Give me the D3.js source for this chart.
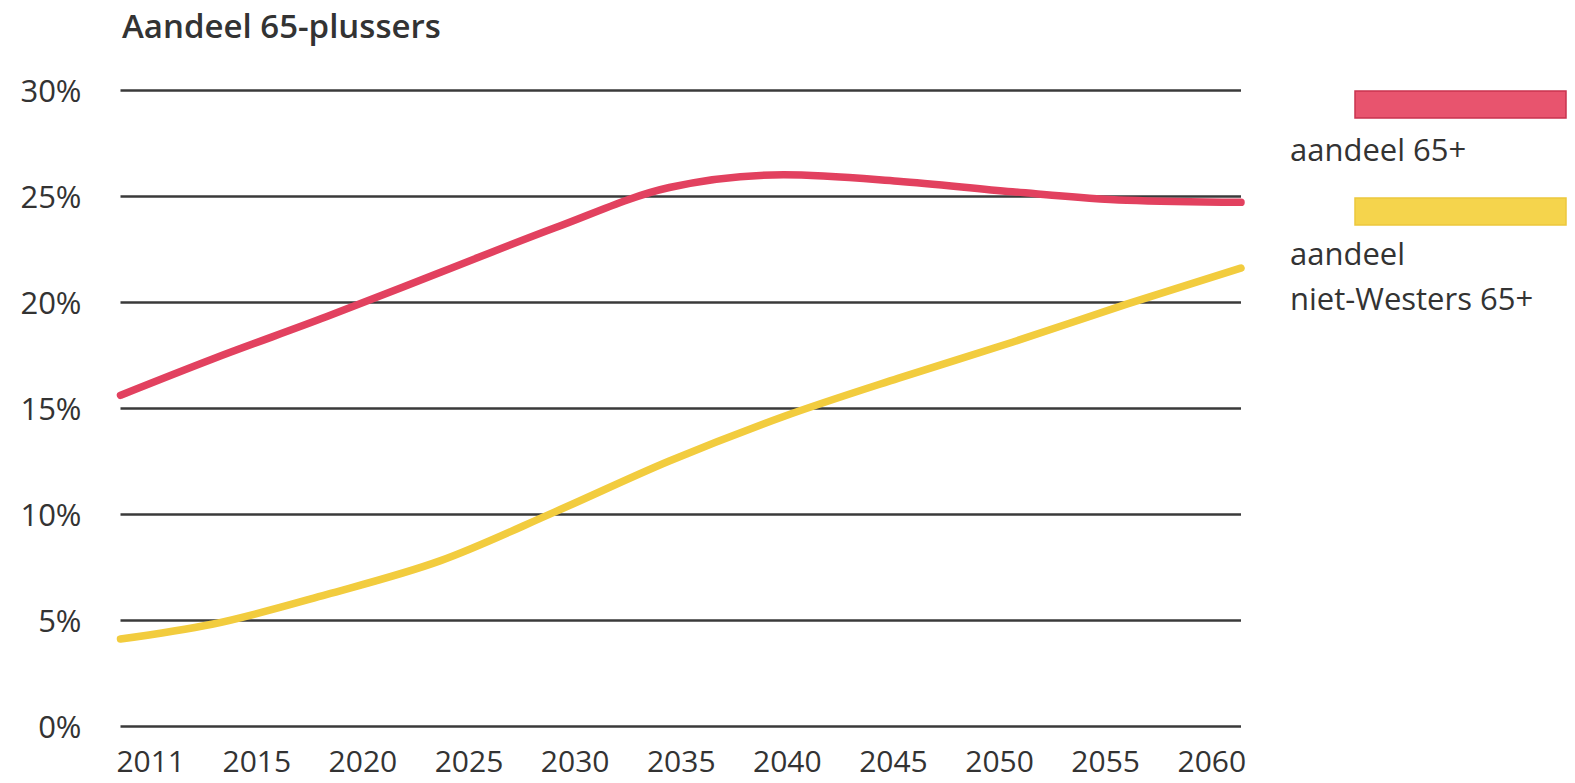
<!DOCTYPE html>
<html lang="nl">
<head>
<meta charset="utf-8">
<title>Aandeel 65-plussers</title>
<script src="https://cdn.jsdelivr.net/npm/d3@7"></script>
<style>
  html, body { margin: 0; padding: 0; background: #fff; }
  svg { display: block; }
  text { font-family: "Open Sans", "Noto Sans", sans-serif; fill: #333; }
</style>
</head>
<body>
<svg id="chart" width="1575" height="783"></svg>
<script>
// Share of the population aged 65+, total and non-Western, 2011-2060 (%)
const years = [2011, 2015, 2020, 2025, 2030, 2035, 2040, 2045, 2050, 2055, 2060];
const aandeel65 = [15.6, 17.3, 19.3, 21.4, 23.5, 25.4, 26.0, 25.7, 25.2, 24.8, 24.7];
const aandeelNietWesters65 = [4.1, 4.8, 6.2, 7.8, 10.1, 12.5, 14.6, 16.4, 18.1, 19.9, 21.6];

const yearLabels = ["2011", "2015", "2020", "2025", "2030", "2035", "2040", "2045", "2050", "2055", "2060"];
const yTicks = [0, 5, 10, 15, 20, 25, 30];

const seriesNames = ["aandeel 65+", "aandeel\nniet-Westers 65+"];
const seriesColors = ["#e2415f", "#f2cc3e"];
const legendFill = ["#e8546e", "#f5d44c"];
const legendStroke = ["#c9334f", "#ecc73c"];

const svg = d3.select("#chart");
const plot = { left: 120.5, right: 1241, top: 90, bottom: 726 };

const x = d3.scaleLinear().domain([2011, 2060]).range([plot.left, plot.right]);
const xLabel = d3.scalePoint().domain(yearLabels).range([plot.left, plot.right]).padding(0.28);
const y = d3.scaleLinear().domain([0, 30]).range([plot.bottom, plot.top]);

// title
svg.append("text")
  .attr("x", 122)
  .attr("y", 38)
  .attr("font-size", 33)
  .attr("font-weight", 600)
  .attr("fill", "#2b2b2b")
  .text("Aandeel 65-plussers");

// y axis with full-width gridlines
const yAxis = svg.append("g")
  .attr("transform", `translate(${plot.left},0)`)
  .call(d3.axisLeft(y)
    .tickValues(yTicks)
    .tickSize(-(plot.right - plot.left))
    .tickPadding(39)
    .tickFormat(d => d + "%"));
yAxis.select(".domain").remove();
yAxis.selectAll(".tick line")
  .attr("stroke", "#3a3a3a")
  .attr("stroke-width", 2.4);
yAxis.selectAll(".tick text")
  .attr("font-size", 31)
  .attr("font-family", "\"Open Sans\", \"Noto Sans\", sans-serif")
  .attr("fill", "#3a3a3a")
  .attr("dy", "0.36em");

// x axis labels
const xAxis = svg.append("g")
  .attr("transform", `translate(0,${plot.bottom})`)
  .call(d3.axisBottom(xLabel).tickSize(0).tickPadding(25));
xAxis.select(".domain").remove();
xAxis.selectAll(".tick text")
  .attr("font-size", 30)
  .attr("font-family", "\"Open Sans\", \"Noto Sans\", sans-serif")
  .attr("fill", "#3a3a3a");

// series lines
const series = [aandeel65, aandeelNietWesters65];
const line = d3.line()
  .x(d => x(d.year))
  .y(d => y(d.value))
  .curve(d3.curveMonotoneX);

series.forEach((values, i) => {
  const pts = years.map((yr, j) => ({ year: yr, value: values[j] }));
  svg.append("path")
    .datum(pts)
    .attr("d", line)
    .attr("fill", "none")
    .attr("stroke", seriesColors[i])
    .attr("stroke-width", 7.5)
    .attr("stroke-linecap", "round")
    .attr("stroke-linejoin", "round");
});

// legend: swatch above its label
const legendX = 1290;
const legendItems = [
  { swatchY: 91, textY: [161] },
  { swatchY: 198, textY: [265, 310] }
];
legendItems.forEach((item, i) => {
  svg.append("rect")
    .attr("x", 1355)
    .attr("y", item.swatchY)
    .attr("width", 211)
    .attr("height", 27)
    .attr("fill", legendFill[i])
    .attr("stroke", legendStroke[i])
    .attr("stroke-width", 1.5);
  const lines = seriesNames[i].split("\n");
  lines.forEach((t, k) => {
    svg.append("text")
      .attr("x", legendX)
      .attr("y", item.textY[k])
      .attr("font-size", 31)
      .attr("fill", "#3a3a3a")
      .text(t);
  });
});
</script>
</body>
</html>
